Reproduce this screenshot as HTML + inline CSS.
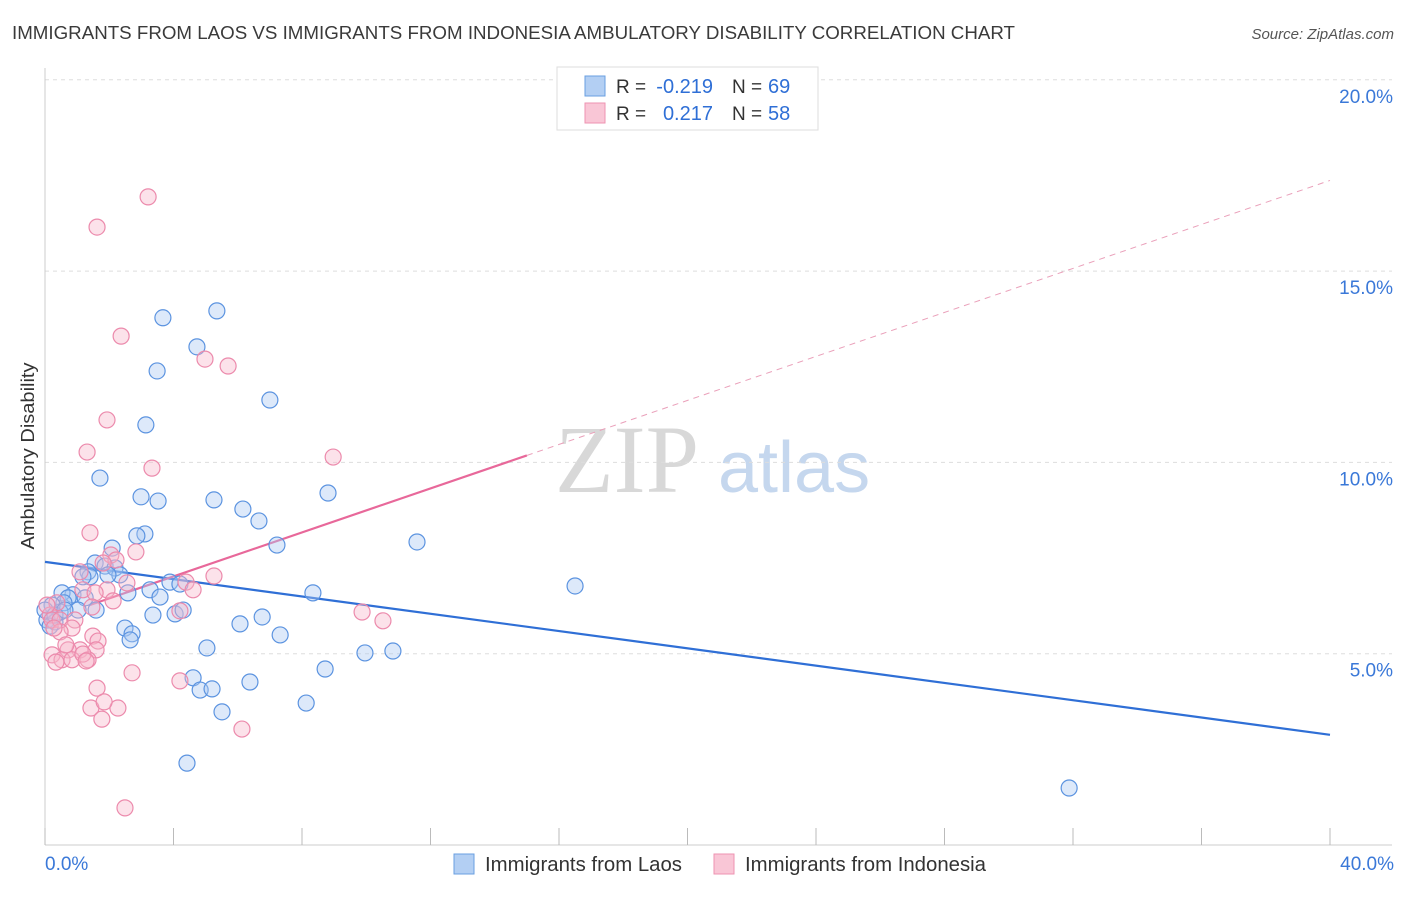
<!DOCTYPE html>
<html><head><meta charset="utf-8"><style>
body{margin:0;background:#fff;font-family:"Liberation Sans",sans-serif;}
</style></head><body>
<svg id="chart" width="1406" height="892" xmlns="http://www.w3.org/2000/svg" font-family="Liberation Sans, sans-serif">
<text x="12" y="39" font-size="18" fill="#3a3a3a" textLength="1003" lengthAdjust="spacingAndGlyphs">IMMIGRANTS FROM LAOS VS IMMIGRANTS FROM INDONESIA AMBULATORY DISABILITY CORRELATION CHART</text>
<text x="1394" y="39" font-size="15" fill="#555" text-anchor="end" font-style="italic">Source: ZipAtlas.com</text>
<text transform="translate(34,456) rotate(-90)" font-size="18" fill="#333" text-anchor="middle" textLength="187" lengthAdjust="spacingAndGlyphs">Ambulatory Disability</text>
<g><text x="555" y="492" font-size="96" fill="#d8d8d8" font-family="Liberation Serif, serif">ZIP</text><text x="718" y="492" font-size="72" fill="#c5d7ee">atlas</text></g>
<g id="grid"></g><g id="axes"></g><g id="trend"></g><g id="points"></g>
<g>
<rect x="557" y="67" width="261" height="63" fill="#fff" stroke="#ddd"/>
<rect x="585" y="76" width="20" height="20" fill="#b3cff3" stroke="#6a9fe0"/>
<rect x="585" y="103" width="20" height="20" fill="#f9c6d6" stroke="#ee93b1"/>
<text x="616" y="93" font-size="19" fill="#333">R =</text>
<text x="713" y="93" font-size="20" fill="#2f6fd6" text-anchor="end">-0.219</text>
<text x="732" y="93" font-size="19" fill="#333">N =</text>
<text x="768" y="93" font-size="20" fill="#2f6fd6">69</text>
<text x="616" y="120" font-size="19" fill="#333">R =</text>
<text x="713" y="120" font-size="20" fill="#2f6fd6" text-anchor="end">0.217</text>
<text x="732" y="120" font-size="19" fill="#333">N =</text>
<text x="768" y="120" font-size="20" fill="#2f6fd6">58</text>
</g>
<g>
<rect x="454" y="854" width="20" height="20" fill="#b3cff3" stroke="#6a9fe0"/>
<text x="485" y="871" font-size="20" fill="#333" textLength="197" lengthAdjust="spacingAndGlyphs">Immigrants from Laos</text>
<rect x="714" y="854" width="20" height="20" fill="#f9c6d6" stroke="#ee93b1"/>
<text x="745" y="871" font-size="20" fill="#333" textLength="241" lengthAdjust="spacingAndGlyphs">Immigrants from Indonesia</text>
</g>
</svg>
<script>
const yTicks=[5,10,15,20];
const yTickLabels=["5.0%","10.0%","15.0%","20.0%"];
const xTicks=[0,4,8,12,16,20,24,28,32,36,40];
const xEndLabels=["0.0%","40.0%"];
const laosX=[5.35,3.67,4.73,3.49,7.00,3.14,1.71,2.99,3.52,5.26,6.16,6.66,8.81,3.11,2.86,2.09,7.22,11.58,1.56,1.87,2.18,2.33,1.96,1.34,1.40,1.18,2.58,3.27,3.89,4.20,3.58,0.87,0.53,0.72,1.25,1.03,1.59,0.59,0.47,0.22,0.06,0.31,0.16,3.36,4.05,4.30,6.07,6.76,7.32,8.34,16.50,2.49,2.71,2.65,5.04,9.96,10.83,8.72,4.61,4.83,5.20,6.38,5.51,8.13,4.42,31.88,0.0,0.31,0.62];
const laosY=[13.96,13.78,13.02,12.39,11.63,10.98,9.59,9.10,8.99,9.02,8.78,8.47,9.20,8.13,8.08,7.76,7.84,7.92,7.37,7.29,7.24,7.06,7.06,7.14,7.01,7.01,6.59,6.67,6.87,6.82,6.48,6.54,6.59,6.46,6.46,6.14,6.14,6.33,6.09,6.27,5.88,5.83,5.72,6.01,6.04,6.14,5.78,5.96,5.49,6.59,6.77,5.67,5.52,5.36,5.15,5.02,5.07,4.60,4.37,4.05,4.08,4.26,3.48,3.71,2.14,1.49,6.14,6.01,6.14];
const indoX=[3.21,1.62,2.37,4.98,5.70,1.93,1.31,8.97,3.33,1.40,2.83,2.05,2.21,2.55,5.26,1.09,1.81,1.93,1.18,1.56,4.39,4.61,2.12,1.46,4.20,9.87,10.52,0.37,0.16,0.22,0.47,0.93,0.84,1.49,1.65,0.47,1.09,0.72,1.59,0.22,0.53,0.84,1.34,0.34,1.18,1.28,1.62,2.71,4.20,1.43,2.27,1.77,1.84,6.13,2.49,0.06,0.28,0.65];
const indoY=[16.94,16.15,13.30,12.70,12.52,11.11,10.27,10.14,9.85,8.16,7.66,7.58,7.45,6.85,7.03,7.14,7.37,6.67,6.67,6.59,6.87,6.67,6.38,6.22,6.12,6.09,5.86,6.33,6.01,5.88,5.88,5.88,5.67,5.46,5.33,5.57,5.10,5.10,5.10,4.97,4.84,4.84,4.84,4.78,4.99,4.81,4.10,4.50,4.29,3.58,3.58,3.29,3.74,3.03,0.97,6.27,5.67,5.23];
const laosTrend=[7.40,2.88];
const indoTrend=[5.87,0.2875];
const NS="http://www.w3.org/2000/svg";
const sx=v=>45+v/40*1285;
const sy=v=>845-v*38.26;
function mk(tag,attrs,parent){const e=document.createElementNS(NS,tag);for(const k in attrs)e.setAttribute(k,attrs[k]);document.getElementById(parent).appendChild(e);return e;}
yTicks.forEach((t,i)=>{
 const g=mk('line',{x1:45,x2:1392,y1:sy(t),y2:sy(t),stroke:'#ddd','stroke-dasharray':'4,4'},'grid');
 
 
 const l=mk('text',{x:1393,y:sy(t)+23,'font-size':19,fill:'#3a78d8','text-anchor':'end'},'grid');
 l.textContent=yTickLabels[i];
 
 
});
const ax=mk('line',{x1:45,x2:45,y1:68,y2:845,stroke:'#ccc'},'axes');


const bx=mk('line',{x1:45,x2:1392,y1:845,y2:845,stroke:'#ccc'},'axes');


xTicks.forEach(t=>{
 const k=mk('line',{x1:sx(t),x2:sx(t),y1:828,y2:845,stroke:'#bbb'},'axes');
 
 
});
[[0,'start',45],[40,'end',1394]].forEach((d,i)=>{
 const l=mk('text',{x:d[2],y:870,'font-size':19,fill:'#3a78d8','text-anchor':d[1]},'axes');
 l.textContent=xEndLabels[i];
 
 
});
function pts(xs,ys,fill,stroke,name){xs.forEach((x,i)=>{
 const c=mk('circle',{cx:sx(x),cy:sy(ys[i]),r:8,fill:fill,'fill-opacity':0.4,stroke:stroke,'stroke-width':1.2},'points');
 
 
});}
pts(laosX,laosY,'#a9c8f2','#5b93e0','laos-point');
pts(indoX,indoY,'#f7b6cb','#ec8aac','indonesia-point');
const bl=mk('line',{x1:sx(0),y1:sy(laosTrend[0]),x2:sx(40),y2:sy(laosTrend[1]),stroke:'#2f6fd6','stroke-width':2.2},'trend');


const f=x=>indoTrend[0]+indoTrend[1]*x;
const pl=mk('line',{x1:sx(1.4),y1:sy(f(1.4)),x2:sx(15),y2:sy(f(15)),stroke:'#e8689a','stroke-width':2.2},'trend');


const pd=mk('line',{x1:sx(15),y1:sy(f(15)),x2:sx(40),y2:sy(f(40)),stroke:'#eaa0ba','stroke-width':1,'stroke-dasharray':'6,5'},'trend');


</script>
</body></html>
